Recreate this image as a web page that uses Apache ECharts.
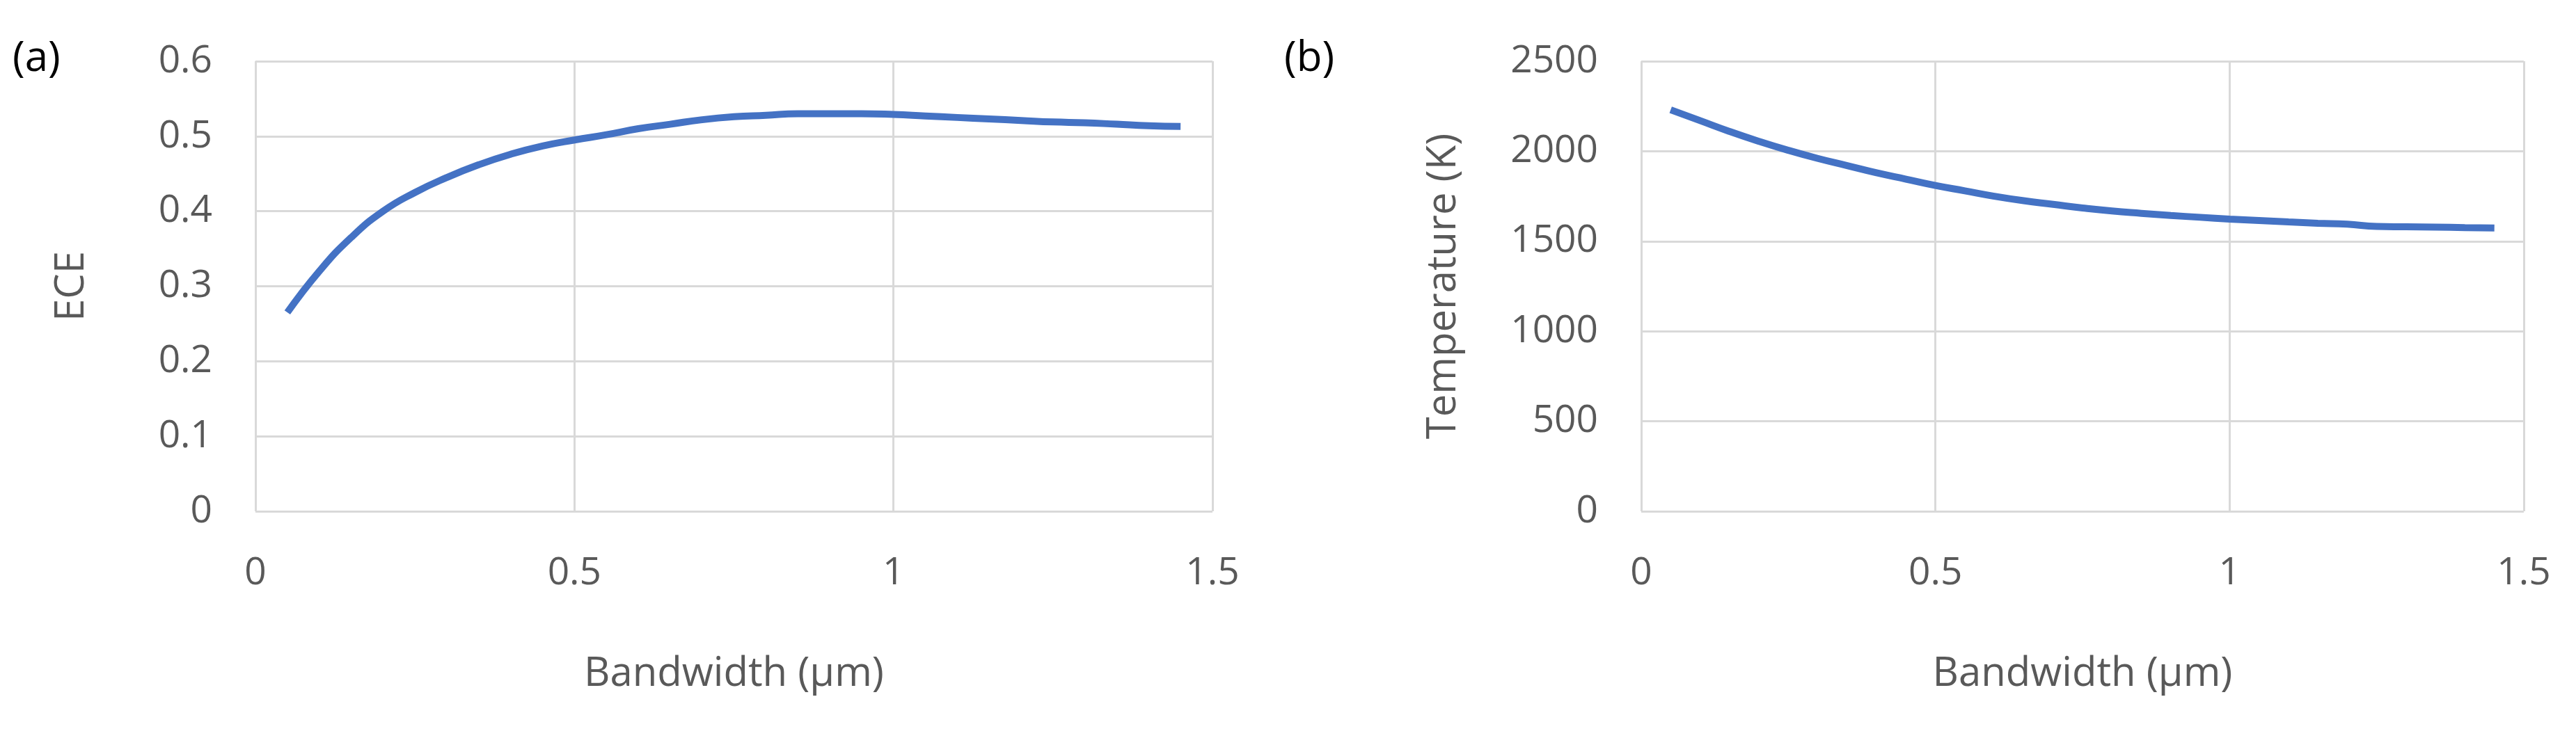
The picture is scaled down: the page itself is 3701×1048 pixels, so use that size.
<!DOCTYPE html>
<html>
<head>
<meta charset="utf-8">
<script src="https://cdn.jsdelivr.net/npm/echarts@6/dist/echarts.min.js"></script>
<style>html,body{margin:0;padding:0;background:#fff}#main{width:3701px;height:1048px}</style>
</head>
<body>
<div id="main"></div>
<script>
// bandwidth (µm)
var bandwidth = [0.05,0.1,0.15,0.2,0.25,0.3,0.35,0.4,0.45,0.5,0.55,0.6,0.65,0.7,0.75,0.8,0.85,0.9,0.95,1.0,1.05,1.1,1.15,1.2,1.25,1.3,1.35,1.4,1.45];
var ece = [0.265,0.32,0.365,0.40,0.425,0.445,0.462,0.476,0.487,0.495,0.502,0.51,0.516,0.522,0.526,0.528,0.53,0.53,0.53,0.529,0.527,0.525,0.523,0.521,0.519,0.518,0.516,0.514,0.513];
var temperature = [2230,2170,2110,2055,2005,1960,1920,1880,1845,1810,1780,1750,1725,1705,1685,1668,1655,1643,1633,1623,1615,1607,1600,1595,1582,1580,1578,1576,1574];

var myChart = echarts.init(document.getElementById('main'));
var txt = '#595959', grid = '#d9d9d9', font = '"Open Sans", sans-serif';

function pairs(ys) { return bandwidth.map(function (x, i) { return [x, ys[i]]; }); }

function xAxis(idx) {
    return {
        gridIndex: idx, type: 'value', min: 0, max: 1.5, interval: 0.5,
        name: 'Bandwidth (µm)', nameLocation: 'middle', nameGap: 205,
        nameTextStyle: { color: txt, fontSize: 58, fontFamily: font },
        axisLine: { show: false }, axisTick: { show: false },
        axisLabel: { color: txt, fontSize: 55, fontFamily: font, margin: 62, formatter: function (v) { return String(v); } },
        splitLine: { lineStyle: { color: grid, width: 3 } }
    };
}
function yAxis(idx, max, interval, name, gap) {
    return {
        gridIndex: idx, type: 'value', min: 0, max: max, interval: interval,
        name: name, nameLocation: 'middle', nameGap: gap,
        nameTextStyle: { color: txt, fontSize: 58, fontFamily: font },
        axisLine: { show: false }, axisTick: { show: false },
        axisLabel: { color: txt, fontSize: 55, fontFamily: font, margin: 62, formatter: function (v) { return String(v); } },
        splitLine: { lineStyle: { color: grid, width: 3 } }
    };
}

var option = {
    backgroundColor: '#fff',
    animation: false,
    graphic: [
        { type: 'text', left: 18, top: 55, style: { text: '(a)', fill: '#000', fontSize: 60, fontFamily: font } },
        { type: 'text', left: 1845, top: 55, style: { text: '(b)', fill: '#000', fontSize: 60, fontFamily: font } }
    ],
    grid: [
        { left: 367, width: 1375, top: 88, height: 647 },
        { left: 2358, width: 1268, top: 88, height: 647 }
    ],
    xAxis: [xAxis(0), xAxis(1)],
    yAxis: [yAxis(0, 0.6, 0.1, 'ECE', 235), yAxis(1, 2500, 500, 'Temperature (K)', 255)],
    series: [
        { type: 'line', xAxisIndex: 0, yAxisIndex: 0, data: pairs(ece), smooth: true, showSymbol: false,
          lineStyle: { color: '#4472c4', width: 10 } },
        { type: 'line', xAxisIndex: 1, yAxisIndex: 1, data: pairs(temperature), smooth: true, showSymbol: false,
          lineStyle: { color: '#4472c4', width: 10 } }
    ]
};
myChart.setOption(option);
</script>
</body>
</html>
